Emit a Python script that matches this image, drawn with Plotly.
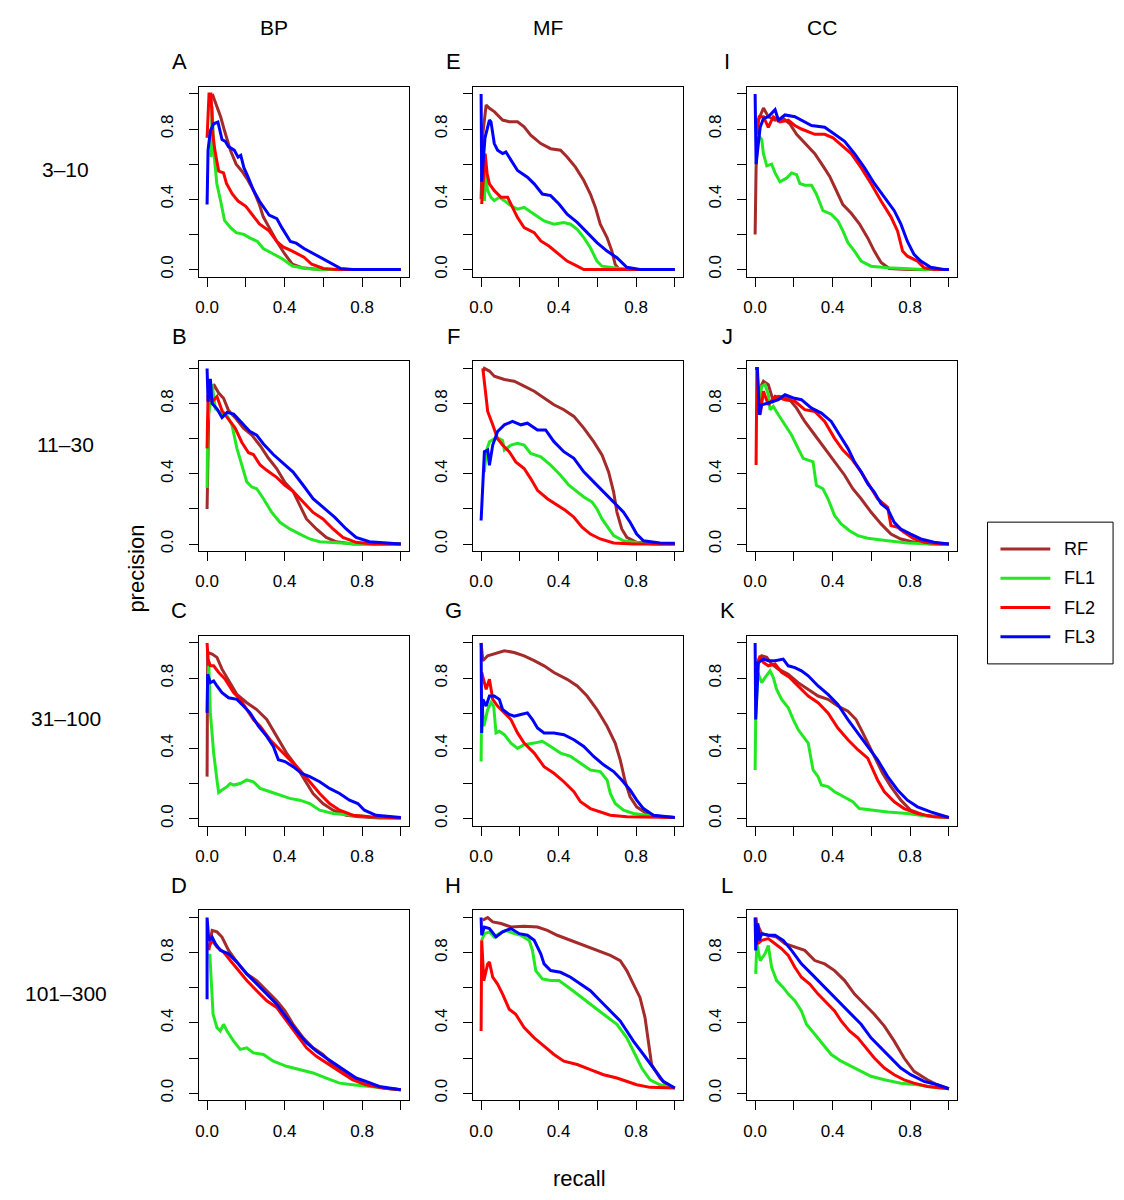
import plotly.graph_objects as go

W, H = 1124, 1200

methods = ["RF", "FL1", "FL2", "FL3"]
method_colors = ["#A52A2A", "#22E822", "#FF0000", "#0000FF"]
ontologies = ["BP", "MF", "CC"]
size_bins = ["3–10", "11–30", "31–100", "101–300"]
panel_letters = [["A", "E", "I"], ["B", "F", "J"], ["C", "G", "K"], ["D", "H", "L"]]
tick_vals = [0.0, 0.2, 0.4, 0.6, 0.8, 1.0]
tick_text = ["0.0", "", "0.4", "", "0.8", ""]

# (recall, precision)
A_RF = [(0.01, 0.98), (0.03, 0.99), (0.04, 0.96), (0.07, 0.87), (0.09, 0.79), (0.12, 0.68), (0.15, 0.60), (0.18, 0.56), (0.21, 0.51), (0.24, 0.45), (0.27, 0.37), (0.29, 0.30), (0.32, 0.24), (0.36, 0.16), (0.40, 0.09), (0.44, 0.03), (0.49, 0.01), (0.58, 0.0), (1.0, 0.0)]
A_FL1 = [(0.02, 0.64), (0.026, 0.93), (0.034, 0.68), (0.05, 0.49), (0.07, 0.39), (0.09, 0.28), (0.12, 0.24), (0.15, 0.21), (0.19, 0.20), (0.22, 0.18), (0.26, 0.16), (0.29, 0.12), (0.34, 0.09), (0.39, 0.06), (0.44, 0.02), (0.51, 0.006), (0.58, 0.0), (1.0, 0.0)]
A_FL2 = [(0.0, 0.75), (0.01, 1.0), (0.02, 1.0), (0.03, 0.77), (0.04, 0.68), (0.06, 0.56), (0.085, 0.55), (0.10, 0.49), (0.13, 0.43), (0.16, 0.39), (0.20, 0.36), (0.23, 0.32), (0.27, 0.26), (0.32, 0.22), (0.36, 0.16), (0.39, 0.13), (0.44, 0.105), (0.50, 0.07), (0.54, 0.03), (0.60, 0.006), (0.67, 0.0), (1.0, 0.0)]
A_FL3 = [(0.0, 0.37), (0.005, 0.68), (0.017, 0.79), (0.034, 0.83), (0.056, 0.84), (0.068, 0.79), (0.077, 0.74), (0.094, 0.73), (0.11, 0.70), (0.14, 0.68), (0.16, 0.64), (0.174, 0.65), (0.19, 0.58), (0.21, 0.53), (0.24, 0.45), (0.27, 0.39), (0.30, 0.34), (0.32, 0.31), (0.36, 0.29), (0.385, 0.24), (0.43, 0.16), (0.46, 0.15), (0.50, 0.12), (0.55, 0.09), (0.60, 0.06), (0.65, 0.03), (0.69, 0.006), (0.75, 0.0), (1.0, 0.0)]

B_RF = [(0.0, 0.20), (0.003, 0.335), (0.009, 0.77), (0.034, 0.91), (0.06, 0.86), (0.085, 0.83), (0.111, 0.76), (0.145, 0.72), (0.188, 0.66), (0.231, 0.62), (0.274, 0.56), (0.316, 0.49), (0.359, 0.43), (0.402, 0.35), (0.444, 0.30), (0.479, 0.22), (0.513, 0.143), (0.564, 0.086), (0.615, 0.038), (0.667, 0.013), (0.752, 0.0), (1.0, 0.0)]
B_FL1 = [(0.0, 0.32), (0.003, 0.70), (0.017, 0.81), (0.026, 0.91), (0.043, 0.77), (0.068, 0.75), (0.103, 0.73), (0.128, 0.68), (0.154, 0.545), (0.179, 0.45), (0.205, 0.354), (0.231, 0.325), (0.256, 0.315), (0.291, 0.258), (0.333, 0.182), (0.376, 0.124), (0.427, 0.086), (0.479, 0.057), (0.53, 0.029), (0.581, 0.013), (0.684, 0.006), (0.786, 0.0), (1.0, 0.0)]
B_FL2 = [(0.0, 0.545), (0.005, 0.85), (0.026, 0.81), (0.051, 0.84), (0.077, 0.76), (0.103, 0.72), (0.145, 0.66), (0.179, 0.58), (0.214, 0.52), (0.239, 0.51), (0.274, 0.45), (0.308, 0.42), (0.359, 0.38), (0.402, 0.335), (0.444, 0.30), (0.496, 0.24), (0.547, 0.18), (0.598, 0.143), (0.65, 0.086), (0.701, 0.038), (0.769, 0.01), (0.855, 0.0), (1.0, 0.0)]
B_FL3 = [(0.0, 1.0), (0.005, 0.81), (0.017, 0.94), (0.026, 0.80), (0.051, 0.77), (0.077, 0.72), (0.103, 0.75), (0.137, 0.74), (0.154, 0.72), (0.188, 0.68), (0.222, 0.64), (0.256, 0.62), (0.291, 0.57), (0.342, 0.51), (0.393, 0.46), (0.444, 0.41), (0.496, 0.335), (0.547, 0.258), (0.598, 0.21), (0.658, 0.153), (0.718, 0.086), (0.769, 0.038), (0.838, 0.013), (0.923, 0.004), (1.0, 0.0)]

C_RF = [(0.0, 0.239), (0.003, 0.946), (0.026, 0.937), (0.051, 0.918), (0.077, 0.851), (0.111, 0.784), (0.154, 0.707), (0.205, 0.66), (0.256, 0.621), (0.308, 0.564), (0.359, 0.468), (0.41, 0.373), (0.462, 0.296), (0.504, 0.22), (0.547, 0.143), (0.598, 0.086), (0.65, 0.048), (0.718, 0.019), (0.786, 0.01), (0.889, 0.004), (1.0, 0.004)]
C_FL1 = [(0.005, 0.774), (0.009, 0.87), (0.017, 0.602), (0.034, 0.373), (0.051, 0.22), (0.06, 0.149), (0.077, 0.163), (0.103, 0.182), (0.12, 0.20), (0.137, 0.191), (0.171, 0.20), (0.205, 0.22), (0.239, 0.21), (0.274, 0.172), (0.325, 0.153), (0.376, 0.134), (0.427, 0.115), (0.479, 0.105), (0.53, 0.086), (0.581, 0.048), (0.65, 0.029), (0.752, 0.019), (0.838, 0.01), (1.0, 0.004)]
C_FL2 = [(0.0, 1.0), (0.005, 0.908), (0.017, 0.87), (0.034, 0.87), (0.06, 0.832), (0.094, 0.793), (0.137, 0.717), (0.171, 0.679), (0.205, 0.621), (0.239, 0.564), (0.274, 0.526), (0.325, 0.449), (0.376, 0.392), (0.427, 0.335), (0.479, 0.277), (0.53, 0.21), (0.581, 0.143), (0.632, 0.086), (0.684, 0.048), (0.752, 0.019), (0.838, 0.01), (1.0, 0.004)]
C_FL3 = [(0.0, 0.602), (0.003, 0.822), (0.017, 0.774), (0.034, 0.784), (0.051, 0.755), (0.077, 0.717), (0.111, 0.688), (0.154, 0.679), (0.188, 0.641), (0.222, 0.602), (0.265, 0.526), (0.308, 0.468), (0.342, 0.411), (0.368, 0.335), (0.402, 0.325), (0.444, 0.296), (0.487, 0.258), (0.53, 0.239), (0.581, 0.21), (0.632, 0.172), (0.684, 0.143), (0.735, 0.105), (0.778, 0.086), (0.812, 0.048), (0.872, 0.019), (0.94, 0.01), (1.0, 0.006)]

D_RF = [(0.009, 0.813), (0.026, 0.927), (0.051, 0.918), (0.077, 0.889), (0.111, 0.813), (0.154, 0.746), (0.205, 0.679), (0.256, 0.641), (0.308, 0.583), (0.359, 0.526), (0.402, 0.468), (0.444, 0.392), (0.496, 0.315), (0.547, 0.258), (0.598, 0.22), (0.65, 0.163), (0.701, 0.124), (0.752, 0.086), (0.803, 0.057), (0.872, 0.038), (0.94, 0.025), (1.0, 0.019)]
D_FL1 = [(0.014, 0.793), (0.021, 0.641), (0.031, 0.449), (0.051, 0.373), (0.068, 0.354), (0.085, 0.392), (0.103, 0.354), (0.137, 0.296), (0.171, 0.249), (0.205, 0.258), (0.239, 0.229), (0.291, 0.22), (0.342, 0.182), (0.41, 0.153), (0.479, 0.134), (0.547, 0.115), (0.615, 0.086), (0.684, 0.057), (0.752, 0.048), (0.838, 0.038), (1.0, 0.019)]
D_FL2 = [(0.009, 0.832), (0.026, 0.87), (0.051, 0.832), (0.085, 0.803), (0.12, 0.755), (0.162, 0.698), (0.205, 0.641), (0.256, 0.583), (0.308, 0.526), (0.359, 0.488), (0.41, 0.411), (0.462, 0.335), (0.513, 0.258), (0.564, 0.21), (0.615, 0.172), (0.684, 0.124), (0.752, 0.076), (0.82, 0.048), (0.906, 0.029), (1.0, 0.019)]
D_FL3 = [(0.0, 0.535), (0.0, 1.0), (0.009, 0.87), (0.026, 0.889), (0.043, 0.851), (0.068, 0.813), (0.111, 0.793), (0.154, 0.746), (0.205, 0.679), (0.256, 0.621), (0.308, 0.564), (0.359, 0.507), (0.41, 0.43), (0.462, 0.354), (0.513, 0.287), (0.564, 0.239), (0.615, 0.20), (0.667, 0.163), (0.718, 0.124), (0.769, 0.086), (0.82, 0.067), (0.889, 0.038), (1.0, 0.019)]

E_RF = [(0.0, 0.40), (0.009, 0.774), (0.026, 0.937), (0.043, 0.918), (0.068, 0.899), (0.111, 0.851), (0.145, 0.841), (0.188, 0.841), (0.222, 0.813), (0.256, 0.765), (0.308, 0.717), (0.359, 0.688), (0.41, 0.679), (0.444, 0.641), (0.487, 0.583), (0.53, 0.507), (0.564, 0.43), (0.59, 0.354), (0.615, 0.258), (0.65, 0.182), (0.675, 0.105), (0.692, 0.029), (0.709, 0.006), (0.75, 0.0), (1.0, 0.0)]
E_FL1 = [(0.017, 0.39), (0.022, 0.545), (0.034, 0.449), (0.051, 0.411), (0.068, 0.392), (0.094, 0.411), (0.12, 0.392), (0.154, 0.363), (0.188, 0.344), (0.222, 0.354), (0.274, 0.315), (0.325, 0.277), (0.376, 0.258), (0.427, 0.268), (0.462, 0.258), (0.496, 0.229), (0.53, 0.182), (0.564, 0.124), (0.598, 0.048), (0.624, 0.019), (0.684, 0.01), (0.752, 0.0), (1.0, 0.0)]
E_FL2 = [(0.003, 0.373), (0.009, 0.488), (0.021, 0.66), (0.031, 0.545), (0.043, 0.488), (0.068, 0.449), (0.103, 0.411), (0.137, 0.411), (0.162, 0.354), (0.188, 0.296), (0.222, 0.239), (0.274, 0.21), (0.308, 0.163), (0.35, 0.134), (0.402, 0.086), (0.444, 0.048), (0.496, 0.019), (0.53, 0.0), (1.0, 0.0)]
E_FL3 = [(0.0, 1.0), (0.003, 0.5), (0.02, 0.75), (0.043, 0.851), (0.051, 0.841), (0.068, 0.717), (0.085, 0.679), (0.111, 0.66), (0.128, 0.669), (0.154, 0.621), (0.188, 0.564), (0.239, 0.526), (0.274, 0.488), (0.316, 0.43), (0.359, 0.421), (0.402, 0.373), (0.444, 0.315), (0.496, 0.268), (0.547, 0.21), (0.598, 0.153), (0.65, 0.105), (0.701, 0.067), (0.752, 0.013), (0.82, 0.0), (1.0, 0.0)]

F_RF = [(0.009, 0.98), (0.017, 1.0), (0.043, 0.985), (0.068, 0.956), (0.12, 0.937), (0.171, 0.927), (0.222, 0.899), (0.274, 0.87), (0.325, 0.832), (0.376, 0.793), (0.427, 0.765), (0.479, 0.727), (0.53, 0.66), (0.581, 0.583), (0.624, 0.507), (0.658, 0.411), (0.684, 0.296), (0.701, 0.182), (0.726, 0.086), (0.752, 0.038), (0.803, 0.01), (0.889, 0.0), (1.0, 0.0)]
F_FL1 = [(0.017, 0.41), (0.026, 0.526), (0.043, 0.583), (0.068, 0.60), (0.094, 0.60), (0.111, 0.59), (0.12, 0.535), (0.154, 0.564), (0.188, 0.574), (0.222, 0.564), (0.256, 0.516), (0.308, 0.497), (0.359, 0.449), (0.41, 0.392), (0.453, 0.335), (0.487, 0.306), (0.53, 0.268), (0.573, 0.239), (0.598, 0.20), (0.624, 0.143), (0.658, 0.086), (0.684, 0.048), (0.735, 0.019), (0.82, 0.006), (0.923, 0.0), (1.0, 0.0)]
F_FL2 = [(0.009, 1.0), (0.021, 0.87), (0.034, 0.755), (0.06, 0.679), (0.085, 0.60), (0.111, 0.564), (0.145, 0.526), (0.179, 0.468), (0.222, 0.43), (0.256, 0.373), (0.291, 0.306), (0.342, 0.258), (0.393, 0.22), (0.436, 0.191), (0.479, 0.153), (0.521, 0.096), (0.564, 0.057), (0.615, 0.029), (0.684, 0.006), (0.786, 0.0), (1.0, 0.0)]
F_FL3 = [(0.0, 0.134), (0.009, 0.392), (0.017, 0.526), (0.034, 0.535), (0.043, 0.449), (0.06, 0.564), (0.085, 0.641), (0.12, 0.679), (0.162, 0.698), (0.205, 0.679), (0.239, 0.688), (0.291, 0.65), (0.333, 0.65), (0.376, 0.583), (0.427, 0.526), (0.479, 0.488), (0.53, 0.411), (0.581, 0.354), (0.632, 0.296), (0.684, 0.239), (0.735, 0.182), (0.769, 0.124), (0.803, 0.057), (0.838, 0.019), (0.923, 0.006), (1.0, 0.005)]

G_RF = [(0.0, 1.0), (0.009, 0.899), (0.034, 0.927), (0.068, 0.937), (0.12, 0.956), (0.171, 0.946), (0.222, 0.927), (0.274, 0.899), (0.325, 0.87), (0.376, 0.832), (0.444, 0.793), (0.496, 0.755), (0.547, 0.698), (0.598, 0.621), (0.65, 0.526), (0.692, 0.43), (0.718, 0.335), (0.744, 0.21), (0.769, 0.124), (0.803, 0.067), (0.855, 0.029), (0.923, 0.01), (1.0, 0.006)]
G_FL1 = [(0.0, 0.325), (0.003, 0.679), (0.014, 0.526), (0.034, 0.621), (0.051, 0.66), (0.065, 0.64), (0.077, 0.488), (0.094, 0.497), (0.12, 0.478), (0.154, 0.43), (0.188, 0.40), (0.222, 0.421), (0.274, 0.43), (0.316, 0.44), (0.359, 0.411), (0.41, 0.373), (0.462, 0.354), (0.513, 0.315), (0.564, 0.277), (0.615, 0.268), (0.65, 0.22), (0.667, 0.143), (0.692, 0.086), (0.735, 0.048), (0.786, 0.029), (0.855, 0.019), (1.0, 0.006)]
G_FL2 = [(0.003, 0.832), (0.014, 0.793), (0.026, 0.736), (0.043, 0.793), (0.06, 0.679), (0.085, 0.641), (0.12, 0.602), (0.154, 0.564), (0.188, 0.488), (0.222, 0.43), (0.274, 0.373), (0.325, 0.296), (0.376, 0.258), (0.427, 0.21), (0.479, 0.153), (0.513, 0.096), (0.564, 0.057), (0.615, 0.038), (0.667, 0.019), (0.752, 0.01), (1.0, 0.006)]
G_FL3 = [(0.0, 1.0), (0.003, 0.488), (0.009, 0.679), (0.026, 0.641), (0.043, 0.698), (0.068, 0.698), (0.094, 0.679), (0.111, 0.621), (0.145, 0.593), (0.171, 0.583), (0.205, 0.593), (0.239, 0.602), (0.265, 0.564), (0.291, 0.516), (0.325, 0.488), (0.376, 0.488), (0.427, 0.478), (0.479, 0.449), (0.53, 0.411), (0.581, 0.354), (0.632, 0.306), (0.684, 0.268), (0.726, 0.22), (0.769, 0.163), (0.803, 0.105), (0.838, 0.057), (0.889, 0.019), (1.0, 0.006)]

H_RF = [(0.009, 0.985), (0.034, 1.0), (0.06, 0.975), (0.103, 0.966), (0.154, 0.946), (0.222, 0.95), (0.291, 0.946), (0.342, 0.927), (0.393, 0.899), (0.462, 0.87), (0.53, 0.841), (0.598, 0.813), (0.667, 0.784), (0.718, 0.755), (0.752, 0.698), (0.786, 0.621), (0.82, 0.545), (0.846, 0.43), (0.863, 0.296), (0.88, 0.163), (0.923, 0.086), (0.957, 0.048), (1.0, 0.029)]
H_FL1 = [(0.003, 0.87), (0.017, 0.908), (0.043, 0.918), (0.068, 0.889), (0.094, 0.908), (0.128, 0.927), (0.171, 0.908), (0.205, 0.899), (0.248, 0.87), (0.265, 0.813), (0.282, 0.698), (0.316, 0.65), (0.359, 0.641), (0.402, 0.641), (0.462, 0.593), (0.53, 0.535), (0.581, 0.488), (0.632, 0.449), (0.701, 0.392), (0.752, 0.315), (0.795, 0.22), (0.829, 0.143), (0.872, 0.076), (0.923, 0.048), (1.0, 0.029)]
H_FL2 = [(0.0, 0.354), (0.003, 0.87), (0.014, 0.641), (0.034, 0.736), (0.043, 0.746), (0.06, 0.66), (0.085, 0.621), (0.111, 0.564), (0.145, 0.478), (0.179, 0.449), (0.222, 0.373), (0.274, 0.315), (0.325, 0.268), (0.376, 0.22), (0.427, 0.182), (0.496, 0.163), (0.564, 0.134), (0.632, 0.105), (0.701, 0.086), (0.752, 0.067), (0.803, 0.048), (0.872, 0.033), (1.0, 0.029)]
H_FL3 = [(0.0, 1.0), (0.003, 0.899), (0.017, 0.946), (0.043, 0.937), (0.077, 0.889), (0.111, 0.918), (0.154, 0.937), (0.197, 0.908), (0.239, 0.899), (0.274, 0.87), (0.308, 0.793), (0.325, 0.736), (0.359, 0.698), (0.41, 0.688), (0.462, 0.66), (0.513, 0.621), (0.564, 0.583), (0.615, 0.526), (0.667, 0.468), (0.718, 0.411), (0.752, 0.354), (0.786, 0.296), (0.838, 0.22), (0.889, 0.143), (0.94, 0.067), (1.0, 0.029)]

I_RF = [(0.0, 0.20), (0.005, 0.58), (0.017, 0.85), (0.043, 0.92), (0.068, 0.87), (0.103, 0.85), (0.145, 0.86), (0.179, 0.83), (0.214, 0.77), (0.256, 0.72), (0.308, 0.66), (0.35, 0.59), (0.385, 0.53), (0.419, 0.45), (0.453, 0.37), (0.496, 0.32), (0.538, 0.26), (0.581, 0.18), (0.615, 0.105), (0.65, 0.04), (0.692, 0.006), (0.786, 0.0), (1.0, 0.0)]
I_FL1 = [(0.014, 0.77), (0.034, 0.74), (0.043, 0.66), (0.06, 0.59), (0.085, 0.60), (0.103, 0.55), (0.128, 0.50), (0.162, 0.52), (0.188, 0.55), (0.214, 0.54), (0.231, 0.49), (0.256, 0.48), (0.291, 0.48), (0.316, 0.43), (0.35, 0.335), (0.393, 0.315), (0.427, 0.277), (0.453, 0.22), (0.479, 0.153), (0.513, 0.105), (0.547, 0.048), (0.598, 0.019), (0.684, 0.01), (0.872, 0.0), (1.0, 0.0)]
I_FL2 = [(0.009, 0.81), (0.021, 0.87), (0.043, 0.87), (0.068, 0.81), (0.094, 0.87), (0.128, 0.84), (0.171, 0.85), (0.205, 0.82), (0.239, 0.80), (0.308, 0.77), (0.359, 0.77), (0.402, 0.75), (0.444, 0.71), (0.496, 0.66), (0.547, 0.58), (0.598, 0.49), (0.65, 0.39), (0.701, 0.30), (0.735, 0.22), (0.761, 0.105), (0.786, 0.076), (0.838, 0.048), (0.872, 0.01), (0.923, 0.0), (1.0, 0.0)]
I_FL3 = [(0.0, 1.0), (0.005, 0.60), (0.026, 0.81), (0.043, 0.86), (0.068, 0.87), (0.103, 0.91), (0.12, 0.85), (0.154, 0.88), (0.205, 0.87), (0.239, 0.85), (0.291, 0.82), (0.359, 0.81), (0.41, 0.77), (0.462, 0.73), (0.513, 0.66), (0.564, 0.58), (0.615, 0.49), (0.667, 0.41), (0.718, 0.335), (0.752, 0.26), (0.786, 0.16), (0.82, 0.086), (0.855, 0.048), (0.906, 0.013), (0.974, 0.0), (1.0, 0.0)]

J_RF = [(0.017, 0.87), (0.043, 0.927), (0.068, 0.908), (0.094, 0.813), (0.12, 0.841), (0.171, 0.832), (0.214, 0.774), (0.256, 0.698), (0.308, 0.621), (0.359, 0.545), (0.41, 0.468), (0.462, 0.392), (0.504, 0.315), (0.547, 0.258), (0.598, 0.182), (0.65, 0.115), (0.701, 0.057), (0.752, 0.029), (0.82, 0.01), (0.906, 0.0), (1.0, 0.0)]
J_FL1 = [(0.017, 0.774), (0.034, 0.899), (0.051, 0.908), (0.068, 0.851), (0.077, 0.765), (0.094, 0.784), (0.12, 0.736), (0.154, 0.679), (0.188, 0.621), (0.222, 0.545), (0.248, 0.488), (0.274, 0.478), (0.299, 0.468), (0.316, 0.335), (0.35, 0.315), (0.376, 0.258), (0.41, 0.163), (0.444, 0.115), (0.487, 0.076), (0.53, 0.048), (0.581, 0.033), (0.684, 0.019), (0.786, 0.006), (0.923, 0.0), (1.0, 0.0)]
J_FL2 = [(0.005, 0.45), (0.009, 1.0), (0.026, 0.736), (0.043, 0.87), (0.068, 0.793), (0.103, 0.841), (0.154, 0.822), (0.205, 0.813), (0.256, 0.765), (0.308, 0.755), (0.359, 0.698), (0.41, 0.602), (0.453, 0.535), (0.496, 0.488), (0.547, 0.411), (0.59, 0.335), (0.632, 0.258), (0.684, 0.21), (0.701, 0.105), (0.735, 0.096), (0.769, 0.067), (0.82, 0.029), (0.872, 0.01), (0.957, 0.0), (1.0, 0.0)]
J_FL3 = [(0.0, 1.0), (0.012, 1.0), (0.021, 0.736), (0.034, 0.793), (0.068, 0.803), (0.12, 0.822), (0.154, 0.851), (0.197, 0.832), (0.239, 0.822), (0.291, 0.774), (0.342, 0.746), (0.393, 0.698), (0.436, 0.621), (0.479, 0.545), (0.513, 0.468), (0.547, 0.411), (0.581, 0.344), (0.615, 0.296), (0.65, 0.229), (0.684, 0.20), (0.718, 0.124), (0.752, 0.086), (0.803, 0.057), (0.855, 0.029), (0.923, 0.01), (1.0, 0.0)]

K_RF = [(0.009, 0.87), (0.034, 0.927), (0.06, 0.918), (0.085, 0.88), (0.12, 0.851), (0.171, 0.822), (0.222, 0.774), (0.274, 0.736), (0.325, 0.698), (0.376, 0.679), (0.427, 0.641), (0.479, 0.612), (0.521, 0.564), (0.556, 0.488), (0.59, 0.411), (0.624, 0.335), (0.658, 0.258), (0.701, 0.182), (0.752, 0.105), (0.803, 0.048), (0.872, 0.019), (1.0, 0.006)]
K_FL1 = [(0.0, 0.277), (0.003, 0.564), (0.014, 0.832), (0.034, 0.774), (0.051, 0.803), (0.077, 0.841), (0.094, 0.803), (0.111, 0.736), (0.137, 0.679), (0.171, 0.631), (0.197, 0.564), (0.222, 0.507), (0.248, 0.468), (0.274, 0.43), (0.299, 0.277), (0.325, 0.239), (0.342, 0.191), (0.376, 0.182), (0.41, 0.153), (0.462, 0.124), (0.504, 0.096), (0.538, 0.057), (0.598, 0.048), (0.684, 0.038), (0.786, 0.029), (0.889, 0.013), (1.0, 0.006)]
K_FL2 = [(0.005, 0.87), (0.026, 0.927), (0.043, 0.889), (0.068, 0.87), (0.103, 0.88), (0.137, 0.832), (0.179, 0.803), (0.222, 0.755), (0.274, 0.698), (0.325, 0.66), (0.376, 0.602), (0.427, 0.516), (0.479, 0.449), (0.53, 0.392), (0.581, 0.344), (0.632, 0.22), (0.667, 0.153), (0.718, 0.096), (0.769, 0.057), (0.838, 0.029), (0.923, 0.01), (1.0, 0.006)]
K_FL3 = [(0.0, 1.0), (0.003, 0.564), (0.017, 0.889), (0.043, 0.908), (0.068, 0.899), (0.103, 0.899), (0.145, 0.908), (0.171, 0.87), (0.205, 0.86), (0.239, 0.841), (0.274, 0.813), (0.325, 0.755), (0.376, 0.707), (0.427, 0.65), (0.479, 0.564), (0.53, 0.488), (0.581, 0.411), (0.632, 0.335), (0.684, 0.239), (0.735, 0.163), (0.786, 0.105), (0.838, 0.067), (0.906, 0.038), (1.0, 0.006)]

L_RF = [(0.009, 0.966), (0.034, 0.908), (0.068, 0.899), (0.111, 0.889), (0.154, 0.851), (0.205, 0.832), (0.256, 0.813), (0.308, 0.755), (0.359, 0.736), (0.41, 0.698), (0.462, 0.641), (0.513, 0.564), (0.564, 0.507), (0.615, 0.449), (0.667, 0.382), (0.718, 0.296), (0.769, 0.20), (0.82, 0.124), (0.889, 0.076), (0.94, 0.048), (1.0, 0.025)]
L_FL1 = [(0.003, 0.679), (0.009, 0.851), (0.026, 0.755), (0.051, 0.793), (0.068, 0.841), (0.085, 0.717), (0.111, 0.641), (0.145, 0.602), (0.171, 0.564), (0.205, 0.526), (0.239, 0.468), (0.265, 0.392), (0.308, 0.335), (0.35, 0.277), (0.393, 0.22), (0.444, 0.182), (0.496, 0.153), (0.547, 0.124), (0.598, 0.096), (0.667, 0.076), (0.752, 0.057), (0.838, 0.048), (0.923, 0.033), (1.0, 0.025)]
L_FL2 = [(0.005, 1.0), (0.014, 0.851), (0.034, 0.87), (0.068, 0.88), (0.103, 0.851), (0.137, 0.822), (0.171, 0.784), (0.205, 0.717), (0.239, 0.66), (0.282, 0.621), (0.325, 0.564), (0.376, 0.507), (0.41, 0.468), (0.444, 0.411), (0.487, 0.354), (0.53, 0.315), (0.573, 0.258), (0.615, 0.20), (0.667, 0.143), (0.718, 0.105), (0.769, 0.076), (0.82, 0.057), (0.889, 0.038), (1.0, 0.025)]
L_FL3 = [(0.0, 1.0), (0.003, 0.813), (0.014, 0.966), (0.021, 0.87), (0.034, 0.908), (0.068, 0.899), (0.103, 0.899), (0.145, 0.87), (0.188, 0.813), (0.239, 0.736), (0.291, 0.679), (0.342, 0.621), (0.393, 0.564), (0.444, 0.507), (0.496, 0.449), (0.547, 0.392), (0.598, 0.315), (0.65, 0.258), (0.701, 0.20), (0.752, 0.143), (0.803, 0.105), (0.872, 0.067), (0.94, 0.048), (1.0, 0.025)]

panel_curves = {
    "A": [A_RF, A_FL1, A_FL2, A_FL3], "B": [B_RF, B_FL1, B_FL2, B_FL3],
    "C": [C_RF, C_FL1, C_FL2, C_FL3], "D": [D_RF, D_FL1, D_FL2, D_FL3],
    "E": [E_RF, E_FL1, E_FL2, E_FL3], "F": [F_RF, F_FL1, F_FL2, F_FL3],
    "G": [G_RF, G_FL1, G_FL2, G_FL3], "H": [H_RF, H_FL1, H_FL2, H_FL3],
    "I": [I_RF, I_FL1, I_FL2, I_FL3], "J": [J_RF, J_FL1, J_FL2, J_FL3],
    "K": [K_RF, K_FL1, K_FL2, K_FL3], "L": [L_RF, L_FL1, L_FL2, L_FL3],
}

# panel boxes in page pixels
col_left = [196, 471, 746]
row_top = [87, 362, 637, 912]
box_w, box_h = 210, 190
OFF = 8  # page body margin around the plot div

FONT = "Liberation Sans, Arial, Helvetica, sans-serif"


def px(x, y):
    return (x - OFF) / W, 1 - (y - OFF) / H


def label(text, x, y, size, angle=0, anchor="center"):
    lx, ly = px(x, y)
    return dict(text=text, x=lx, y=ly, xref="paper", yref="paper",
                xanchor=anchor, yanchor="middle", textangle=angle,
                showarrow=False, font=dict(family=FONT, size=size, color="black"))


fig = go.Figure()
annotations = []
shapes = []
layout_axes = {}

k = 0
for r in range(4):
    for c in range(3):
        k += 1
        sfx = "" if k == 1 else str(k)
        letter = panel_letters[r][c]
        x0, y0 = col_left[c], row_top[r]
        xa, ya = px(x0, y0 + box_h)
        xb, yb = px(x0 + box_w, y0)
        axis_style = dict(
            range=[-0.04, 1.04], tickvals=tick_vals, ticktext=tick_text,
            ticks="outside", ticklen=9, tickwidth=1, tickcolor="black",
            showline=True, linecolor="black", linewidth=1, mirror=True,
            showgrid=False, zeroline=False, fixedrange=True,
            tickfont=dict(family=FONT, size=17, color="black"),
        )
        layout_axes["xaxis" + sfx] = dict(axis_style, domain=[xa, xb], anchor="y" + sfx,
                                          ticklabelstandoff=6)
        layout_axes["yaxis" + sfx] = dict(axis_style, domain=[ya, yb], anchor="x" + sfx,
                                          tickangle=-90, ticklabelstandoff=10)

        for m, pts, col in zip(methods, panel_curves[letter], method_colors):
            fig.add_trace(go.Scatter(
                x=[p[0] for p in pts], y=[p[1] for p in pts],
                mode="lines", line=dict(color=col, width=3),
                name=m, legendgroup=m, showlegend=False,
                xaxis="x" + sfx, yaxis="y" + sfx,
            ))

        annotations.append(label(letter, x0 - 20, y0 - 25, 22))

for c, name in enumerate(ontologies):
    annotations.append(label(name, col_left[c] + 75, 28, 21))

for r, name in enumerate(size_bins):
    annotations.append(label(name, 62, row_top[r] + 83, 21))

annotations.append(label("precision", 133, 570, 22, angle=-90))
annotations.append(label("recall", 578, 1180, 22))

# legend box drawn R-style
lx0, ly0 = px(987, 665)
lx1, ly1 = px(1113, 523)
shapes.append(dict(type="rect", xref="paper", yref="paper", x0=lx0, y0=ly0, x1=lx1, y1=ly1,
                   line=dict(color="black", width=1), fillcolor="white", layer="below"))
for i, (m, col) in enumerate(zip(methods, method_colors)):
    yy = 550 + i * 29.3
    sx0, sy = px(1000, yy)
    sx1, _ = px(1050, yy)
    shapes.append(dict(type="line", xref="paper", yref="paper", x0=sx0, x1=sx1, y0=sy, y1=sy,
                       line=dict(color=col, width=3)))
    annotations.append(label(m, 1062, yy, 18, anchor="left"))

fig.update_layout(
    width=W, height=H,
    margin=dict(l=0, r=0, t=0, b=0),
    paper_bgcolor="white", plot_bgcolor="white",
    showlegend=False,
    annotations=annotations,
    shapes=shapes,
    **layout_axes,
)

fig.write_html("out.html")
